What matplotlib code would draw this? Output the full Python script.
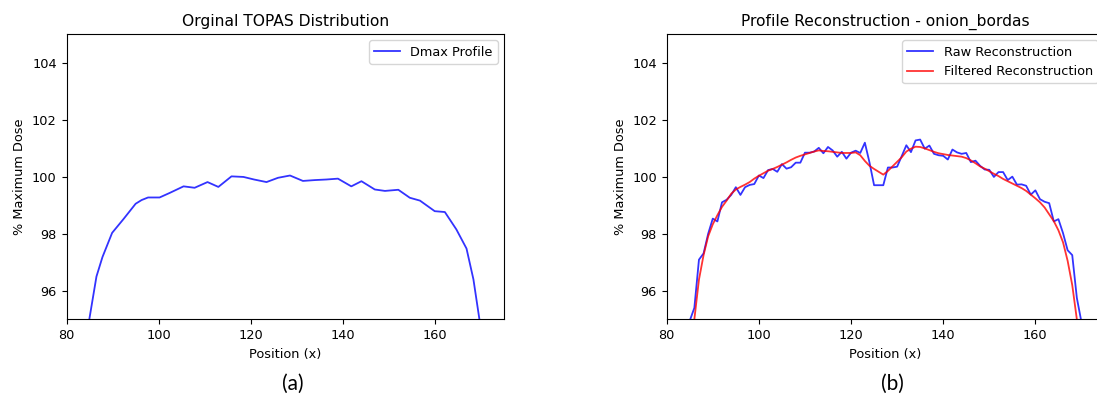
import numpy as np
import matplotlib
matplotlib.use("Agg")
import matplotlib.pyplot as plt

plt.rcParams['font.size'] = 9.3

# (a) original TOPAS dmax profile
orig_x = [84.2, 84.95, 86.5, 87.8, 89.9, 92.4, 95.0, 96.3, 97.7, 100.2, 102.4,
          105.4, 107.8, 110.6, 112.95, 115.8, 118.4, 120.7, 123.4, 125.9, 128.5,
          131.3, 133.9, 136.4, 138.9, 141.8, 144.0, 146.9, 149.1, 152.0, 154.5,
          156.7, 159.9, 162.1, 164.6, 166.8, 168.3, 169.6, 170.2]
orig_y = [94.0, 95.0, 96.5, 97.18, 98.03, 98.52, 99.05, 99.18, 99.27, 99.27, 99.43,
          99.66, 99.61, 99.81, 99.64, 100.01, 99.99, 99.9, 99.81, 99.96, 100.04,
          99.85, 99.88, 99.9, 99.93, 99.66, 99.84, 99.55, 99.5, 99.54, 99.26,
          99.16, 98.79, 98.76, 98.15, 97.48, 96.4, 95.0, 94.3]

# (b) reconstruction, one sample per position 85..170
recon_x = list(range(85, 171))
raw_y = [94.95, 95.4, 97.09, 97.31, 98.0, 98.53, 98.43, 99.1, 99.19, 99.36,
         99.63, 99.36, 99.63, 99.71, 99.74, 100.04, 99.95, 100.23, 100.27, 100.17,
         100.44, 100.28, 100.33, 100.49, 100.49, 100.84, 100.84, 100.88, 101.01, 100.82,
         101.04, 100.92, 100.7, 100.87, 100.63, 100.84, 100.91, 100.83, 101.19, 100.5,
         99.7, 99.7, 99.7, 100.32, 100.32, 100.35, 100.72, 101.1, 100.86, 101.27,
         101.3, 100.98, 101.09, 100.8, 100.75, 100.73, 100.6, 100.95, 100.85, 100.8,
         100.83, 100.51, 100.56, 100.38, 100.25, 100.24, 99.99, 100.16, 100.16, 99.88,
         100.0, 99.72, 99.73, 99.68, 99.37, 99.52, 99.21, 99.12, 99.07, 98.43,
         98.51, 98.02, 97.42, 97.25, 95.75, 94.9]
filt_y = [94.2, 95.0, 96.39, 97.25, 97.91, 98.33, 98.65, 98.94, 99.16, 99.4,
          99.55, 99.64, 99.72, 99.81, 99.93, 100.03, 100.12, 100.21, 100.27, 100.34,
          100.42, 100.5, 100.59, 100.67, 100.73, 100.78, 100.83, 100.88, 100.92, 100.9,
          100.89, 100.87, 100.85, 100.83, 100.83, 100.83, 100.85, 100.75, 100.55, 100.38,
          100.27, 100.17, 100.07, 100.2, 100.36, 100.52, 100.68, 100.88, 100.98, 101.05,
          101.04, 100.99, 100.93, 100.87, 100.82, 100.79, 100.76, 100.74, 100.72, 100.7,
          100.65, 100.57, 100.47, 100.36, 100.28, 100.19, 100.1, 100.02, 99.92, 99.84,
          99.76, 99.68, 99.6, 99.5, 99.37, 99.24, 99.1, 98.92, 98.68, 98.44,
          98.12, 97.7, 97.05, 96.2, 95.0, 93.8]

W, H = 1097, 399
fig = plt.figure(figsize=(W / 100, H / 100), dpi=100)

def px_rect(left, top, right, bottom):
    return [left / W, 1 - bottom / H, (right - left) / W, (bottom - top) / H]

ax0 = fig.add_axes(px_rect(66.5, 34, 504.3, 319.3))
ax0.plot(orig_x, orig_y, color='blue', alpha=0.8, lw=1.3, label='Dmax Profile')
ax0.set_title('Orginal TOPAS Distribution')
ax0.legend(loc='upper right')

ax1 = fig.add_axes(px_rect(666.7, 34, 1104.5, 319.3))
ax1.plot(recon_x, raw_y, color='blue', alpha=0.8, lw=1.3, label='Raw Reconstruction')
ax1.plot(recon_x, filt_y, color='red', alpha=0.8, lw=1.3, label='Filtered Reconstruction')
ax1.set_title('Profile Reconstruction - onion_bordas')
ax1.legend(loc='upper right')

for ax in (ax0, ax1):
    ax.set_xlim(80, 175)
    ax.set_ylim(95, 105)
    ax.set_xticks([80, 100, 120, 140, 160])
    ax.set_yticks([96, 98, 100, 102, 104])
    ax.set_xlabel('Position (x)')
    ax.set_ylabel('% Maximum Dose')

fig.text(293 / W, 1 - 384 / H, '(a)', ha='center', va='center', fontsize=15, family=['Lato', 'DejaVu Sans'])
fig.text(892 / W, 1 - 384 / H, '(b)', ha='center', va='center', fontsize=15, family=['Lato', 'DejaVu Sans'])

fig.savefig('out.png', dpi=100)
